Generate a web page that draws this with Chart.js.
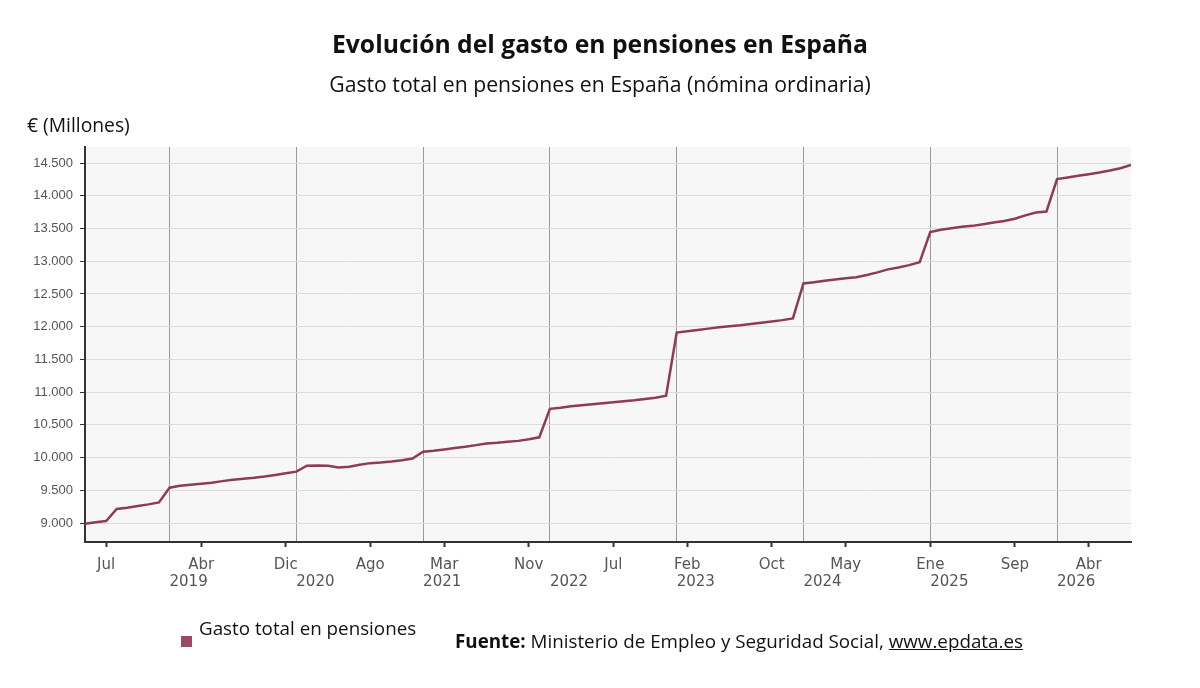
<!DOCTYPE html>
<html lang="es">
<head>
<meta charset="utf-8">
<title>Evolución del gasto en pensiones en España</title>
<script src="https://cdn.jsdelivr.net/npm/chart.js@4/dist/chart.umd.min.js"></script>
<style>
  body { margin: 0; background: #fff; font-family: "Open Sans", "DejaVu Sans", sans-serif; }
  #pagina { position: relative; width: 1200px; height: 688px; overflow: hidden; }
  #lienzo { position: absolute; left: 0; top: 0; width: 1200px; height: 688px; }
  .txt { position: absolute; white-space: nowrap; color: #111; }
  #titulo { left: 0; width: 1200px; text-align: center; top: 28px; font-size: 24.7px; line-height: 32px; font-weight: bold; }
  #subtitulo { left: 0; width: 1200px; text-align: center; top: 71px; font-size: 21.2px; line-height: 26px; }
  #unidad { left: 27px; top: 112px; font-size: 19.3px; line-height: 26px; }
  #leyendaCaja { position: absolute; left: 181px; top: 636px; width: 11px; height: 11px; background: #9c4a63; }
  #leyenda { left: 199px; top: 615px; font-size: 18.8px; line-height: 26px; }
  #fuente { left: 455px; top: 628px; font-size: 18.8px; line-height: 26px; }
  #fuente a { color: #111; text-decoration: underline; }
</style>
</head>
<body>
<div id="pagina">
  <div id="lienzo"><canvas id="grafico"></canvas></div>
  <div class="txt" id="titulo">Evolución del gasto en pensiones en España</div>
  <div class="txt" id="subtitulo">Gasto total en pensiones en España (nómina ordinaria)</div>
  <div class="txt" id="unidad">€ (Millones)</div>
  <div id="leyendaCaja"></div>
  <div class="txt" id="leyenda">Gasto total en pensiones</div>
  <div class="txt" id="fuente"><b>Fuente:</b> Ministerio de Empleo y Seguridad Social, <a href="#">www.epdata.es</a></div>
</div>
<script>
// primer mes de la serie: mayo 2018
const primerAnio = 2018;
const primerMes = 5;

// gasto mensual (millones de euros)
const gasto2018 = [8990, 9010, 9030, 9215, 9235, 9260, 9285, 9315]; // may-dic
const gasto2019 = [9540, 9570, 9585, 9600, 9615, 9640, 9660, 9675, 9690, 9710, 9735, 9760];
const gasto2020 = [9785, 9875, 9877, 9875, 9850, 9860, 9890, 9915, 9925, 9940, 9960, 9985];
const gasto2021 = [10090, 10105, 10125, 10145, 10165, 10190, 10215, 10225, 10240, 10255, 10280, 10310];
const gasto2022 = [10745, 10760, 10785, 10800, 10815, 10830, 10845, 10860, 10875, 10895, 10915, 10945];
const gasto2023 = [11910, 11930, 11950, 11970, 11990, 12005, 12020, 12040, 12060, 12080, 12100, 12125];
const gasto2024 = [12660, 12680, 12700, 12720, 12740, 12755, 12790, 12830, 12875, 12905, 12940, 12985];
const gasto2025 = [13445, 13480, 13505, 13525, 13540, 13565, 13590, 13615, 13650, 13700, 13745, 13760];
const gasto2026 = [14255, 14280, 14305, 14330, 14355, 14385, 14420, 14470]; // ene-ago

// etiquetas del eje X
const mesesTick = ['2018-07', '2019-04', '2019-12', '2020-08', '2021-03', '2021-11', '2022-07',
                   '2023-02', '2023-10', '2024-05', '2025-01', '2025-09', '2026-04'];
const mesesEtiqueta = ['Jul', 'Abr', 'Dic', 'Ago', 'Mar', 'Nov', 'Jul', 'Feb', 'Oct', 'May', 'Ene', 'Sep', 'Abr'];
const aniosTick = [2019, 2020, 2021, 2022, 2023, 2024, 2025, 2026];

// eje Y
const yTicks = [9000, 9500, 10000, 10500, 11000, 11500, 12000, 12500, 13000, 13500, 14000, 14500];
const yMin = 8710;
const yMax = 14745;

const gasto = [].concat(gasto2018, gasto2019, gasto2020, gasto2021, gasto2022,
                        gasto2023, gasto2024, gasto2025, gasto2026);

function indiceMes(anio, mes) {
  return (anio - primerAnio) * 12 + (mes - primerMes);
}
const posMeses = mesesTick.map(s => indiceMes(+s.slice(0, 4), +s.slice(5, 7)));
const posAnios = aniosTick.map(a => indiceMes(a, 1));
const xMax = gasto.length - 1;

function miles(v) {
  return String(v).replace(/\B(?=(\d{3})+(?!\d))/g, '.');
}

const fondo = {
  id: 'fondo',
  beforeDraw(chart) {
    const a = chart.chartArea;
    const ctx = chart.ctx;
    ctx.save();
    ctx.fillStyle = '#f7f7f7';
    ctx.fillRect(a.left, a.top, a.right - a.left, a.bottom - a.top);
    ctx.restore();
  }
};

const fuenteTicks = { family: '"DejaVu Sans", sans-serif', size: 15 };

new Chart(document.getElementById('grafico'), {
  type: 'line',
  data: {
    datasets: [{
      label: 'Gasto total en pensiones',
      data: gasto.map((v, i) => ({ x: i, y: v })),
      borderColor: '#8e3b58',
      backgroundColor: '#9c4a63',
      borderWidth: 2.5,
      pointRadius: 0,
      tension: 0
    }]
  },
  options: {
    responsive: true,
    maintainAspectRatio: false,
    animation: false,
    layout: { padding: { left: 0, right: 69, top: 147, bottom: 75 } },
    plugins: { legend: { display: false }, tooltip: { enabled: false } },
    scales: {
      x: {
        type: 'linear', position: 'bottom', weight: 1,
        min: 0, max: xMax,
        afterBuildTicks: s => { s.ticks = posMeses.map(v => ({ value: v })); },
        afterFit: s => { s.height = 31; },
        ticks: {
          autoSkip: false, maxRotation: 0, padding: 9, color: '#555', font: fuenteTicks,
          callback: v => mesesEtiqueta[posMeses.indexOf(v)]
        },
        grid: { drawOnChartArea: false, tickLength: 5, tickColor: '#333', tickWidth: 2 },
        border: { color: '#333', width: 2 }
      },
      anios: {
        type: 'linear', position: 'bottom', weight: 2,
        min: 0, max: xMax,
        afterBuildTicks: s => { s.ticks = posAnios.map(v => ({ value: v })); },
        afterFit: s => { s.height = 40; },
        ticks: {
          autoSkip: false, maxRotation: 0, padding: 0, align: 'start', color: '#555', font: fuenteTicks,
          callback: v => String(aniosTick[posAnios.indexOf(v)])
        },
        grid: { drawTicks: false, color: '#9a9a9a', lineWidth: 1 },
        border: { display: false }
      },
      y: {
        min: yMin, max: yMax,
        afterBuildTicks: s => { s.ticks = yTicks.map(v => ({ value: v })); },
        afterFit: s => { s.width = 85; },
        ticks: {
          padding: 7, color: '#555',
          font: { family: '"Liberation Sans", Arial, sans-serif', size: 13 },
          callback: v => miles(v)
        },
        grid: { color: '#dcdcdc', tickLength: 5, tickColor: '#333', lineWidth: 1 },
        border: { color: '#333', width: 2 }
      }
    }
  },
  plugins: [fondo]
});
</script>
</body>
</html>
